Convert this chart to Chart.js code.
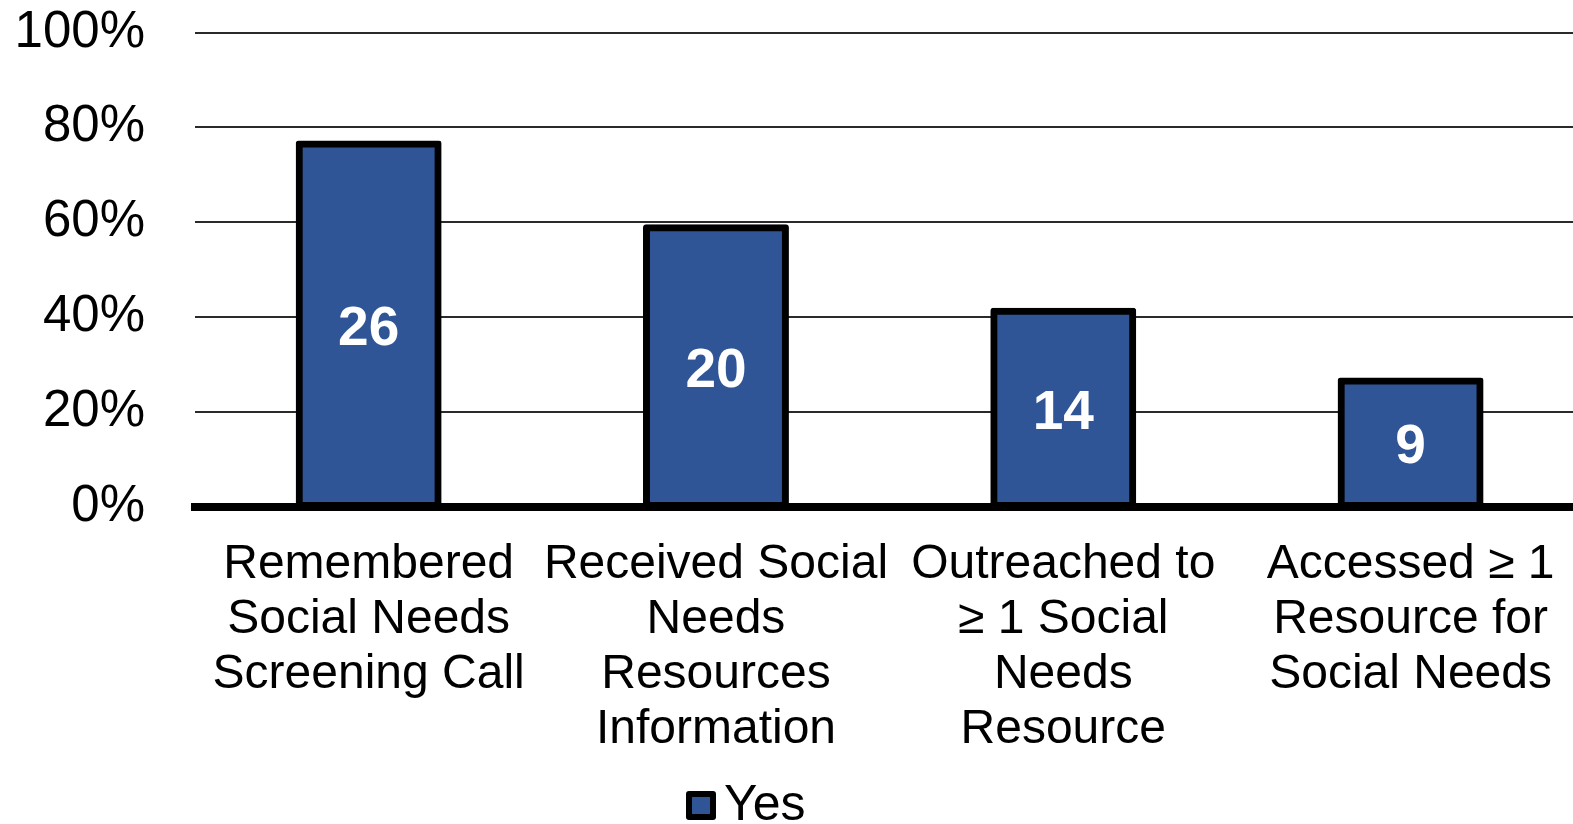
<!DOCTYPE html>
<html>
<head>
<meta charset="utf-8">
<script src="https://cdn.jsdelivr.net/npm/chart.js@4.4.1/dist/chart.umd.min.js"></script>
<style>
  html, body { margin: 0; padding: 0; background: #ffffff; overflow: hidden; }
  #wrap { position: absolute; left: 0; top: 0; width: 1585px; height: 824px; }
</style>
</head>
<body>
<div id="wrap"><canvas id="chart"></canvas></div>
<script>
// Categories (multi-line axis labels)
const categories = [
  ['Remembered', 'Social Needs', 'Screening Call'],
  ['Received Social', 'Needs', 'Resources', 'Information'],
  ['Outreached to', '\u2265 1 Social', 'Needs', 'Resource'],
  ['Accessed \u2265 1', 'Resource for', 'Social Needs']
];
// Number of participants answering "Yes" in each step
const yesCounts = [26, 20, 14, 9];
// Participants in the sample (denominator for the percentages)
const respondents = 34;
const seriesName = 'Yes';
// Value-axis ticks (percent)
const yTickValues = [0, 20, 40, 60, 80, 100];

const FONT = "'Liberation Sans', Arial, Helvetica, sans-serif";
const BAR_BLUE = '#2F5597';

const yesShare = yesCounts.map(n => n / respondents * 100);

// Count labels centred inside each bar
const countLabels = {
  id: 'countLabels',
  afterDatasetsDraw(chart) {
    const ctx = chart.ctx;
    const meta = chart.getDatasetMeta(0);
    ctx.save();
    ctx.fillStyle = '#ffffff';
    ctx.font = "bold 55px " + FONT;
    ctx.textAlign = 'center';
    ctx.textBaseline = 'middle';
    meta.data.forEach((bar, i) => {
      const p = bar.getProps(['x', 'y', 'base'], true);
      ctx.fillText(String(yesCounts[i]), p.x, (p.y + p.base) / 2 + 5);
    });
    ctx.restore();
  }
};

// Single-entry legend below the category labels
const bottomLegend = {
  id: 'bottomLegend',
  afterDraw(chart) {
    const ctx = chart.ctx;
    const boxX = 686, boxY = 791, boxW = 30, boxH = 29;
    ctx.save();
    ctx.fillStyle = '#000000';
    ctx.beginPath();
    ctx.roundRect(boxX, boxY, boxW, boxH, 3);
    ctx.fill();
    ctx.fillStyle = BAR_BLUE;
    ctx.fillRect(boxX + 6, boxY + 6, boxW - 12, boxH - 12);
    ctx.fillStyle = '#000000';
    ctx.font = "50px " + FONT;
    ctx.textAlign = 'left';
    ctx.textBaseline = 'middle';
    ctx.fillText(seriesName, 724, 806);
    ctx.restore();
  }
};

new Chart(document.getElementById('chart'), {
  type: 'bar',
  data: {
    labels: categories,
    datasets: [{
      label: seriesName,
      data: yesShare,
      backgroundColor: BAR_BLUE,
      borderColor: '#000000',
      borderWidth: 7,
      borderSkipped: false,
      borderRadius: 3,
      inflateAmount: 3.5,
      barPercentage: 0.4,
      categoryPercentage: 1.0
    }]
  },
  options: {
    responsive: true,
    maintainAspectRatio: false,
    animation: false,
    layout: { padding: { top: 32.5, bottom: 36.5, left: 0, right: 0 } },
    plugins: {
      legend: { display: false },
      tooltip: { enabled: false }
    },
    scales: {
      x: {
        grid: { display: false, drawTicks: false },
        border: { display: true, color: '#000000', width: 8 },
        ticks: {
          color: '#000000',
          padding: 30.5,
          maxRotation: 0,
          autoSkip: false,
          font: { family: FONT, size: 48, lineHeight: '55px' }
        }
      },
      y: {
        min: 0,
        max: 100,
        afterBuildTicks: s => { s.ticks = yTickValues.map(v => ({ value: v })); },
        afterFit: s => {
          s.width = 195;
          s.paddingTop = 0;
          s.paddingBottom = 0;
        },
        grid: { color: '#2a2a2a', lineWidth: 2, drawTicks: false },
        border: { display: false },
        ticks: {
          color: '#000000',
          padding: 50,
          callback: v => v + '%',
          font: { family: FONT, size: 51, lineHeight: 1.2 }
        }
      }
    }
  },
  plugins: [countLabels, bottomLegend]
});
</script>
</body>
</html>
